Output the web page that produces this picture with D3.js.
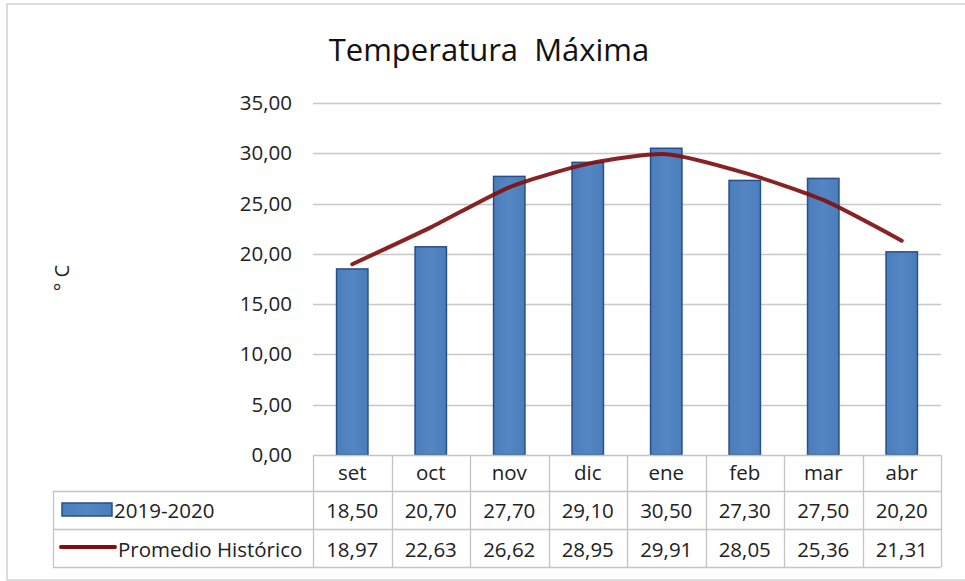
<!DOCTYPE html>
<html><head><meta charset="utf-8">
<script src="https://cdn.jsdelivr.net/npm/d3@7"></script>
<style>body{margin:0;background:#fff}svg{display:block}text{white-space:pre}</style>
</head><body>
<svg id="c" width="965" height="581"></svg>
<script>
const months = ["set","oct","nov","dic","ene","feb","mar","abr"];
const actual = [18.50,20.70,27.70,29.10,30.50,27.30,27.50,20.20];
const promedio = [18.97,22.63,26.62,28.95,29.91,28.05,25.36,21.31];
const yTicks = [0,5,10,15,20,25,30,35];
const seriesNames = ["2019-2020","Promedio Histórico"];
const title = "Temperatura  Máxima";
const yLabel = "° C";

(function(){
const svg = d3.select("#c");
const font = "'Open Sans', 'Noto Sans', sans-serif";
const fmt = v => v.toFixed(2).replace(".", ",");

svg.append("rect").attr("x",7).attr("y",4).attr("width",970).attr("height",576)
  .attr("fill","none").attr("stroke","#d0d0d0").attr("stroke-width",1.5);

const pL = 313, pR = 941, pT = 103, pB = 455;
const x = d3.scaleBand().domain(months).range([pL,pR]);
const y = d3.scaleLinear().domain([0,35]).range([pB,pT]);

svg.append("text").attr("x",489).attr("y",61).attr("text-anchor","middle")
  .attr("font-family",font).attr("font-size",31).attr("fill","#111").text(title);

svg.append("g").selectAll("line").data(yTicks.filter(d=>d>0)).join("line")
  .attr("x1",pL).attr("x2",pR).attr("y1",d=>Math.round(y(d))+0.5).attr("y2",d=>Math.round(y(d))+0.5)
  .attr("stroke","#c8c8c8").attr("stroke-width",1.3);

const yAxis = d3.axisLeft(y).tickValues(yTicks).tickFormat(fmt).tickSize(0).tickPadding(21);
const ga = svg.append("g").attr("transform",`translate(${pL},0)`).call(yAxis);
ga.select(".domain").remove();
ga.selectAll("text").attr("font-family",font).attr("font-size",20.5).attr("fill","#222");

svg.append("text").attr("transform","translate(69,278) rotate(-90)").attr("text-anchor","middle")
  .attr("font-family",font).attr("font-size",20).attr("fill","#222").text(yLabel);

const bw = x.bandwidth()*0.4;
const defs = svg.append("defs");
const grad = defs.append("linearGradient").attr("id","bg").attr("x1","0").attr("x2","1");
grad.append("stop").attr("offset","0").attr("stop-color","#4a7dbb");
grad.append("stop").attr("offset","0.5").attr("stop-color","#5486c3");
grad.append("stop").attr("offset","1").attr("stop-color","#4a7dbb");
svg.append("g").selectAll("rect").data(actual).join("rect")
  .attr("x",(d,i)=>x(months[i])+x.bandwidth()/2-bw/2)
  .attr("y",d=>y(d))
  .attr("width",bw).attr("height",d=>pB-y(d))
  .attr("fill","url(#bg)").attr("stroke","#284f86").attr("stroke-width",1.5);

const line = d3.line().x((d,i)=>x(months[i])+x.bandwidth()/2).y(d=>y(d))
  .curve(d3.curveCardinal.tension(0.35));
svg.append("path").datum(promedio).attr("d",line).attr("fill","none")
  .attr("stroke","#7f1010").attr("stroke-width",4).attr("stroke-linecap","round").attr("opacity",0.92);

const tb = svg.append("g");
const tableLeft = 53;
const bc = "#c4c4c4";
tb.append("line").attr("x1",pL).attr("x2",pR).attr("y1",455.5).attr("y2",455.5).attr("stroke",bc).attr("stroke-width",1.3);
[491,529,567].forEach(yy=>tb.append("line").attr("x1",tableLeft).attr("x2",pR).attr("y1",yy+0.5).attr("y2",yy+0.5).attr("stroke",bc).attr("stroke-width",1.3));
months.forEach(m=>tb.append("line").attr("x1",Math.round(x(m))+0.5).attr("x2",Math.round(x(m))+0.5).attr("y1",455).attr("y2",567).attr("stroke",bc).attr("stroke-width",1.3));
tb.append("line").attr("x1",pR+0.5).attr("x2",pR+0.5).attr("y1",455).attr("y2",567).attr("stroke",bc).attr("stroke-width",1.3);
tb.append("line").attr("x1",tableLeft+0.5).attr("x2",tableLeft+0.5).attr("y1",491).attr("y2",567).attr("stroke",bc).attr("stroke-width",1.3);

const txt = (xx,yy,t,anchor="middle") => tb.append("text").attr("x",xx).attr("y",yy).attr("text-anchor",anchor)
  .attr("font-family",font).attr("font-size",20.5).attr("fill","#222").text(t);
months.forEach((m,i)=>{
  const cx = x(m)+x.bandwidth()/2;
  txt(cx,480,m);
  txt(cx,518,fmt(actual[i]));
  txt(cx,557,fmt(promedio[i]));
});
tb.append("rect").attr("x",62).attr("y",503).attr("width",50).attr("height",13)
  .attr("fill","url(#bg)").attr("stroke","#284f86").attr("stroke-width",1.5);
txt(114,518,seriesNames[0],"start");
tb.append("line").attr("x1",61).attr("x2",115).attr("y1",547).attr("y2",547)
  .attr("stroke","#7f1010").attr("stroke-width",4).attr("stroke-linecap","round");
txt(118,557,seriesNames[1],"start");
})();
</script>
</body></html>
